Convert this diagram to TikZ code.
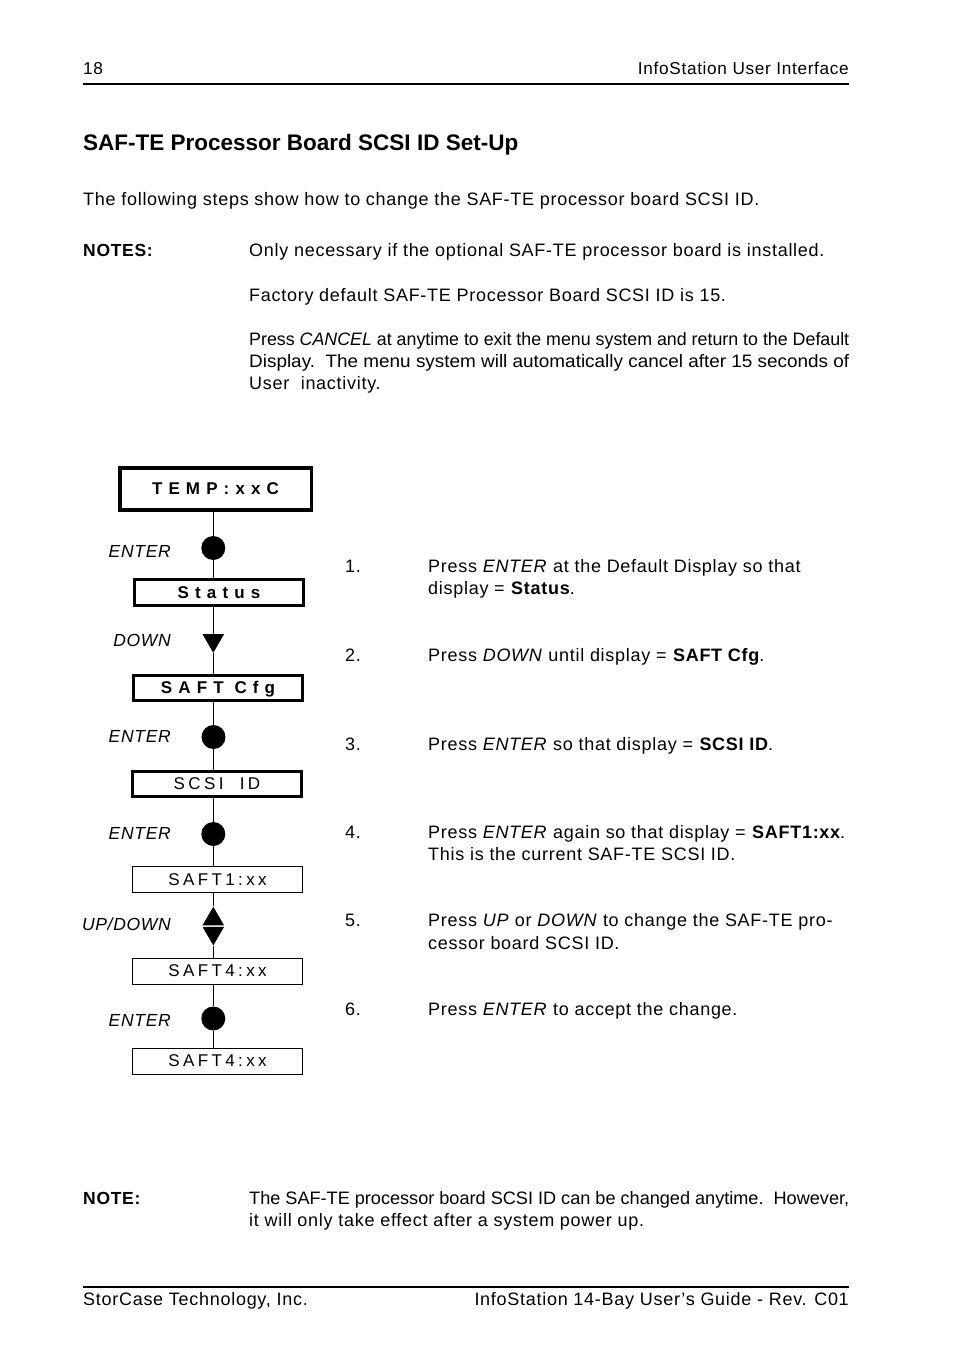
\documentclass[tikz,border=0pt]{standalone}
\usepackage{fontspec}
\usepackage{graphicx}
\usepackage{tikz}
\usetikzlibrary{shapes.geometric}
\setmainfont{Liberation Sans}[LetterSpace=4]
\newfontfamily\titlefont{Liberation Sans}
\newfontfamily\lcdfont{Liberation Sans}[LetterSpace=36]
\newfontfamily\lcdthinfont{Liberation Sans}[LetterSpace=20]
% justified line of the text column
\newcommand{\jline}[1]{\resizebox{600pt}{\height}{\titlefont #1}}

\begin{document}
\begin{tikzpicture}[
  x=1pt, y=-1pt,
  txt/.style={anchor=base west, inner sep=0pt, font=\fontsize{18}{22}\selectfont},
  txtr/.style={anchor=base east, inner sep=0pt, font=\fontsize{18}{22}\selectfont},
  headtxt/.style={inner sep=0pt, font=\fontsize{17.2}{22}\selectfont},
  keylabel/.style={anchor=base east, inner sep=0pt, font=\fontsize{17.5}{22}\selectfont\itshape},
  lcdbox/.style={draw, line width=2.7pt, minimum width=169pt, minimum height=25.5pt,
    inner sep=0pt, text height=11.5pt, text depth=0pt,
    font=\lcdfont\fontsize{17}{19}\selectfont\bfseries},
  lcdthin/.style={lcdbox, line width=1.3pt, minimum width=170pt, minimum height=26pt,
    font=\lcdthinfont\fontsize{17}{19}\selectfont},
  btnenter/.style={circle, fill=black, minimum size=24pt, inner sep=0pt},
  btndown/.style={regular polygon, regular polygon sides=3, shape border rotate=180,
    fill=black, minimum size=25pt, inner sep=0pt},
  btnup/.style={regular polygon, regular polygon sides=3,
    fill=black, minimum size=25pt, inner sep=0pt},
  flow/.style={line width=1.2pt},
]
  \useasboundingbox (0,0) rectangle (954,1369);
  \fill[white] (0,0) rectangle (954,1369);

  % Page header
  \node[headtxt, anchor=base west] (pagenum) at (83,74.5) {18};
  \node[headtxt, anchor=base east] (headright) at (849,74.5) {InfoStation User Interface};
  \draw[line width=1.2pt] (83,84) -- (849,84);

  % Title and notes
  \node[txt, font=\titlefont\fontsize{22.5}{26}\selectfont\bfseries] (title) at (83,150)
    {SAF-TE Processor Board SCSI ID Set-Up};
  \node[txt] (intro) at (83,205)
    {The following steps show how to change the SAF-TE processor board SCSI ID.};
  \node[txt, font=\fontsize{17.5}{22}\selectfont\bfseries] (notes) at (83,256) {NOTES:};
  \node[txt] (note1) at (249,256)
    {Only necessary if the optional SAF-TE processor board is installed.};
  \node[txt] (note2) at (249,301)
    {Factory default SAF-TE Processor Board SCSI ID is 15.};
  \node[txt] (note3a) at (249,345)
    {\jline{Press \textit{CANCEL} at anytime to exit the menu system and return to the Default}};
  \node[txt] (note3b) at (249,367)
    {\jline{Display.\ \ The menu system will automatically cancel after 15 seconds of}};
  \node[txt] (note3c) at (249,389) {User\ \ inactivity.};

  % Display sequence
  \node[lcdbox, line width=3.5pt, minimum width=191.5pt, minimum height=42pt] (temp)
    at (215.5,488.8) {TEMP:xxC};
  \node[lcdbox] (status)  at (219,592.5) {Status};
  \node[lcdbox] (saftcfg) at (218,688)   {SAFT Cfg};
  \node[lcdbox, font=\lcdthinfont\fontsize{17}{19}\selectfont] (scsiid) at (217,784) {SCSI\ \ ID};
  \node[lcdthin] (saftone)  at (217.5,879.3)  {SAFT1:xx};
  \node[lcdthin] (saftfour) at (217.5,971.2)  {SAFT4:xx};
  \node[lcdthin] (saftdone) at (217.5,1061.2) {SAFT4:xx};

  % Keys
  \node[btnenter] (enterA) at (213.3,548)    {};
  \node[btndown]  (downA)  at (213.3,640.3)  {};
  \node[btnenter] (enterB) at (213.5,737)    {};
  \node[btnenter] (enterC) at (213.3,834)    {};
  \node[btnup]    (upD)    at (213.3,919.2)  {};
  \node[btndown]  (downD)  at (213.3,933)    {};
  \node[btnenter] (enterE) at (213.3,1018.5) {};

  \node[keylabel] (lblA) at (171,557)   {ENTER};
  \node[keylabel] (lblB) at (171,646.7) {DOWN};
  \node[keylabel] (lblC) at (171,742.7) {ENTER};
  \node[keylabel] (lblD) at (171,839.3) {ENTER};
  \node[keylabel] (lblE) at (171,930.7) {UP/DOWN};
  \node[keylabel] (lblF) at (171,1026.7){ENTER};

  % Connectors
  \draw[flow] (enterA |- temp.south) -- (enterA) -- (enterA |- status.north);
  \draw[flow] (downA |- status.south) -- (downA) -- (downA |- saftcfg.north);
  \draw[flow] (enterB |- saftcfg.south) -- (enterB) -- (enterB |- scsiid.north);
  \draw[flow] (enterC |- scsiid.south) -- (enterC) -- (enterC |- saftone.north);
  \draw[flow] (upD |- saftone.south) -- (upD);
  \draw[flow] (downD) -- (downD |- saftfour.north);
  \draw[flow] (enterE |- saftfour.south) -- (enterE) -- (enterE |- saftdone.north);

  % Steps
  \node[txt] (num1) at (345,572.3) {1.};
  \node[txt] (step1a) at (428,572.3) {Press \textit{ENTER} at the Default Display so that};
  \node[txt] (step1b) at (428,594.5) {display = \textbf{Status}.};
  \node[txt] (num2) at (345,661.7) {2.};
  \node[txt] (step2) at (428,661.7) {Press \textit{DOWN} until display = \textbf{SAFT Cfg}.};
  \node[txt] (num3) at (345,750) {3.};
  \node[txt] (step3) at (428,750) {Press \textit{ENTER} so that display = \textbf{SCSI ID}.};
  \node[txt] (num4) at (345,838.3) {4.};
  \node[txt] (step4a) at (428,838.3) {Press \textit{ENTER} again so that display = \textbf{SAFT1:xx}.};
  \node[txt] (step4b) at (428,860.6) {This is the current SAF-TE SCSI ID.};
  \node[txt] (num5) at (345,926.7) {5.};
  \node[txt] (step5a) at (428,926.7) {Press \textit{UP} or \textit{DOWN} to change the SAF-TE pro-};
  \node[txt] (step5b) at (428,949.2) {cessor board SCSI ID.};
  \node[txt] (num6) at (345,1015) {6.};
  \node[txt] (step6) at (428,1015) {Press \textit{ENTER} to accept the change.};

  % Closing note
  \node[txt, font=\fontsize{17.5}{22}\selectfont\bfseries] (notelast) at (83,1204) {NOTE:};
  \node[txt] (notelasta) at (249,1204)
    {\jline{The SAF-TE processor board SCSI ID can be changed anytime.\ \ However,}};
  \node[txt] (notelastb) at (249,1226)
    {it will only take effect after a system power up.};

  % Page footer
  \draw[line width=1.2pt] (83,1287) -- (849,1287);
  \node[txt] (footleft) at (83,1305) {StorCase Technology, Inc.};
  \node[txtr] (footright) at (849,1305) {InfoStation 14-Bay User's Guide - Rev. C01};
\end{tikzpicture}
\end{document}
